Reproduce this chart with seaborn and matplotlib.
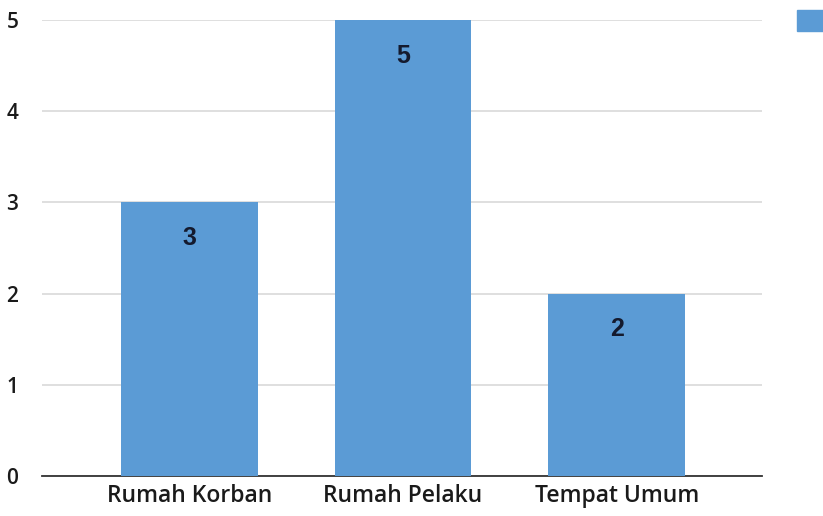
import matplotlib
matplotlib.use('Agg')
import matplotlib.pyplot as plt
import seaborn as sns
import pandas as pd
from matplotlib.patches import Patch

categories = ['Rumah Korban', 'Rumah Pelaku', 'Tempat Umum']
values = [3, 5, 2]

df = pd.DataFrame({'Lokasi': categories, 'Jumlah': values})

sns.set_style('white')
plt.rcParams['font.family'] = ['Open Sans', 'DejaVu Sans']

fig = plt.figure(figsize=(8.23, 5.16), dpi=100)
ax = fig.add_axes([42 / 823, 1 - 476 / 516, 720 / 823, 456 / 516])

sns.barplot(data=df, x='Lokasi', y='Jumlah', color='#5B9BD5', saturation=1,
            width=0.64, linewidth=0, ax=ax, zorder=3)

ax.set_xlim(-0.69, 2.68)
ax.set_ylim(0, 5)
ax.set_yticks(range(0, 6))
ax.grid(axis='y', color='#d9d9d9', linewidth=1.2, zorder=0)
ax.set_axisbelow(True)
for s in ['top', 'right', 'left']:
    ax.spines[s].set_visible(False)
ax.spines['bottom'].set_color('#333333')
ax.spines['bottom'].set_linewidth(1.3)
ax.tick_params(axis='both', length=0, colors='#1a1a1a')
ax.tick_params(axis='x', pad=6, labelsize=16.5)
ax.tick_params(axis='y', pad=17, labelsize=15)
for lab in ax.get_xticklabels() + ax.get_yticklabels():
    lab.set_fontweight('semibold')
ax.set_xlabel('')
ax.set_ylabel('')

for i, v in enumerate(values):
    ax.text(i, v - 0.39, str(v), ha='center', va='center', fontsize=18,
            fontweight='bold', color='#141a2e', family='Liberation Sans')

fig.legend(handles=[Patch(color='#5B9BD5')], labels=[' '], loc='upper left',
           bbox_to_anchor=(784 / 823, 1 + 3 / 516), frameon=False,
           handlelength=2.0, handleheight=2.0)

fig.savefig('out.png', dpi=100)
